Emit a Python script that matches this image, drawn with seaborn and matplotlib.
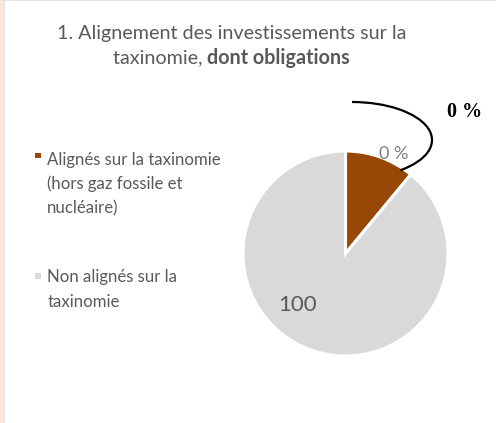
import matplotlib
matplotlib.use("Agg")
import matplotlib.pyplot as plt
from matplotlib.patches import Arc, Rectangle
import seaborn as sns

# --- data -------------------------------------------------------------
categories = [
    "Alignés sur la taxinomie\n(hors gaz fossile et\nnucléaire)",
    "Non alignés sur la\ntaxinomie",
]
shares = [11, 89]
slice_labels = ["0 %", "100"]
total_label = "0 %"
title_line1 = "1. Alignement des investissements sur la"
title_line2_regular = "taxinomie, "
title_line2_bold = "dont obligations"
colors = ["#974706", "#d9d9d9"]

# --- style ------------------------------------------------------------
sns.set_theme(style="white")
plt.rcParams["font.family"] = ["Lato", "DejaVu Sans"]
text_color = "#595959"

W, H = 496, 423
fig = plt.figure(figsize=(W / 100, H / 100), dpi=100)
fig.patch.set_facecolor("white")


def fx(x):
    return x / W


def fy(y):
    return 1 - y / H


# frame decoration: peach strip on the left, thin grey rules
fig.patches.append(Rectangle((0, 0), fx(3.5), 1, transform=fig.transFigure,
                             facecolor="#fbe5d6", edgecolor="none", zorder=0))
fig.patches.append(Rectangle((fx(3.5), 0), fx(1.2), 1, transform=fig.transFigure,
                             facecolor="#dfe3e8", edgecolor="none", zorder=0))
fig.patches.append(Rectangle((0, fy(1.2)), 1, 1.2 / H, transform=fig.transFigure,
                             facecolor="#e3e3e3", edgecolor="none", zorder=0))

# --- pie --------------------------------------------------------------
cx, cy, r = 345.5, 253.5, 102.5
ax = fig.add_axes([fx(cx - r), fy(cy + r), 2 * r / W, 2 * r / H])
wedges, _ = ax.pie(shares, colors=colors, startangle=90, counterclock=False,
                   wedgeprops=dict(edgecolor="white", linewidth=2.2))
ax.set_xlim(-1, 1)
ax.set_ylim(-1, 1)
ax.set_aspect("equal")
ax.axis("off")

# curved bracket over the aligned slice
ax.add_patch(Arc(((352 - cx) / r, (cy - 140) / r), 2 * 80 / r, 2 * 38 / r,
                 theta1=-32, theta2=90, color="black", linewidth=1.6, clip_on=False))

# slice labels
fig.text(fx(393.5), fy(159), slice_labels[0], ha="center", va="baseline",
         fontsize=13, color="#7f7f7f")
fig.text(fx(297.5), fy(310.7), slice_labels[1], ha="center", va="baseline",
         fontsize=16, color=text_color)
fig.text(fx(465), fy(116.7), total_label, ha="center", va="baseline",
         fontsize=14.5, fontweight="bold", family=["Liberation Serif"], color="black")

# --- title ------------------------------------------------------------
title_size = 14.2
fig.text(fx(231.5), fy(39), title_line1, ha="center", va="baseline",
         fontsize=title_size, color=text_color)
t_reg = fig.text(0, fy(63.5), title_line2_regular, ha="left", va="baseline",
                 fontsize=title_size, color=text_color)
t_bold = fig.text(0, fy(63.5), title_line2_bold, ha="left", va="baseline",
                  fontsize=title_size, fontweight="bold", color=text_color)
fig.canvas.draw()
rend = fig.canvas.get_renderer()
w_reg = t_reg.get_window_extent(rend).width
w_bold = t_bold.get_window_extent(rend).width
x0 = 231.5 - (w_reg + w_bold) / 2
t_reg.set_x(fx(x0))
t_bold.set_x(fx(x0 + w_reg))

# --- legend -----------------------------------------------------------
legend_rows = [(165, 153.3), (282.3, 273.3)]
line_step = 24.3
for label, color, (base_y, sq_y) in zip(categories, colors, legend_rows):
    fig.patches.append(Rectangle((fx(35.2), fy(sq_y + 5.2)), 5.4 / W, 5.2 / H,
                                 transform=fig.transFigure, facecolor=color,
                                 edgecolor="none"))
    for i, line in enumerate(label.split("\n")):
        fig.text(fx(47.3), fy(base_y + i * line_step), line, ha="left",
                 va="baseline", fontsize=12.05, color=text_color)

fig.savefig("out.png", dpi=100, facecolor="white")
